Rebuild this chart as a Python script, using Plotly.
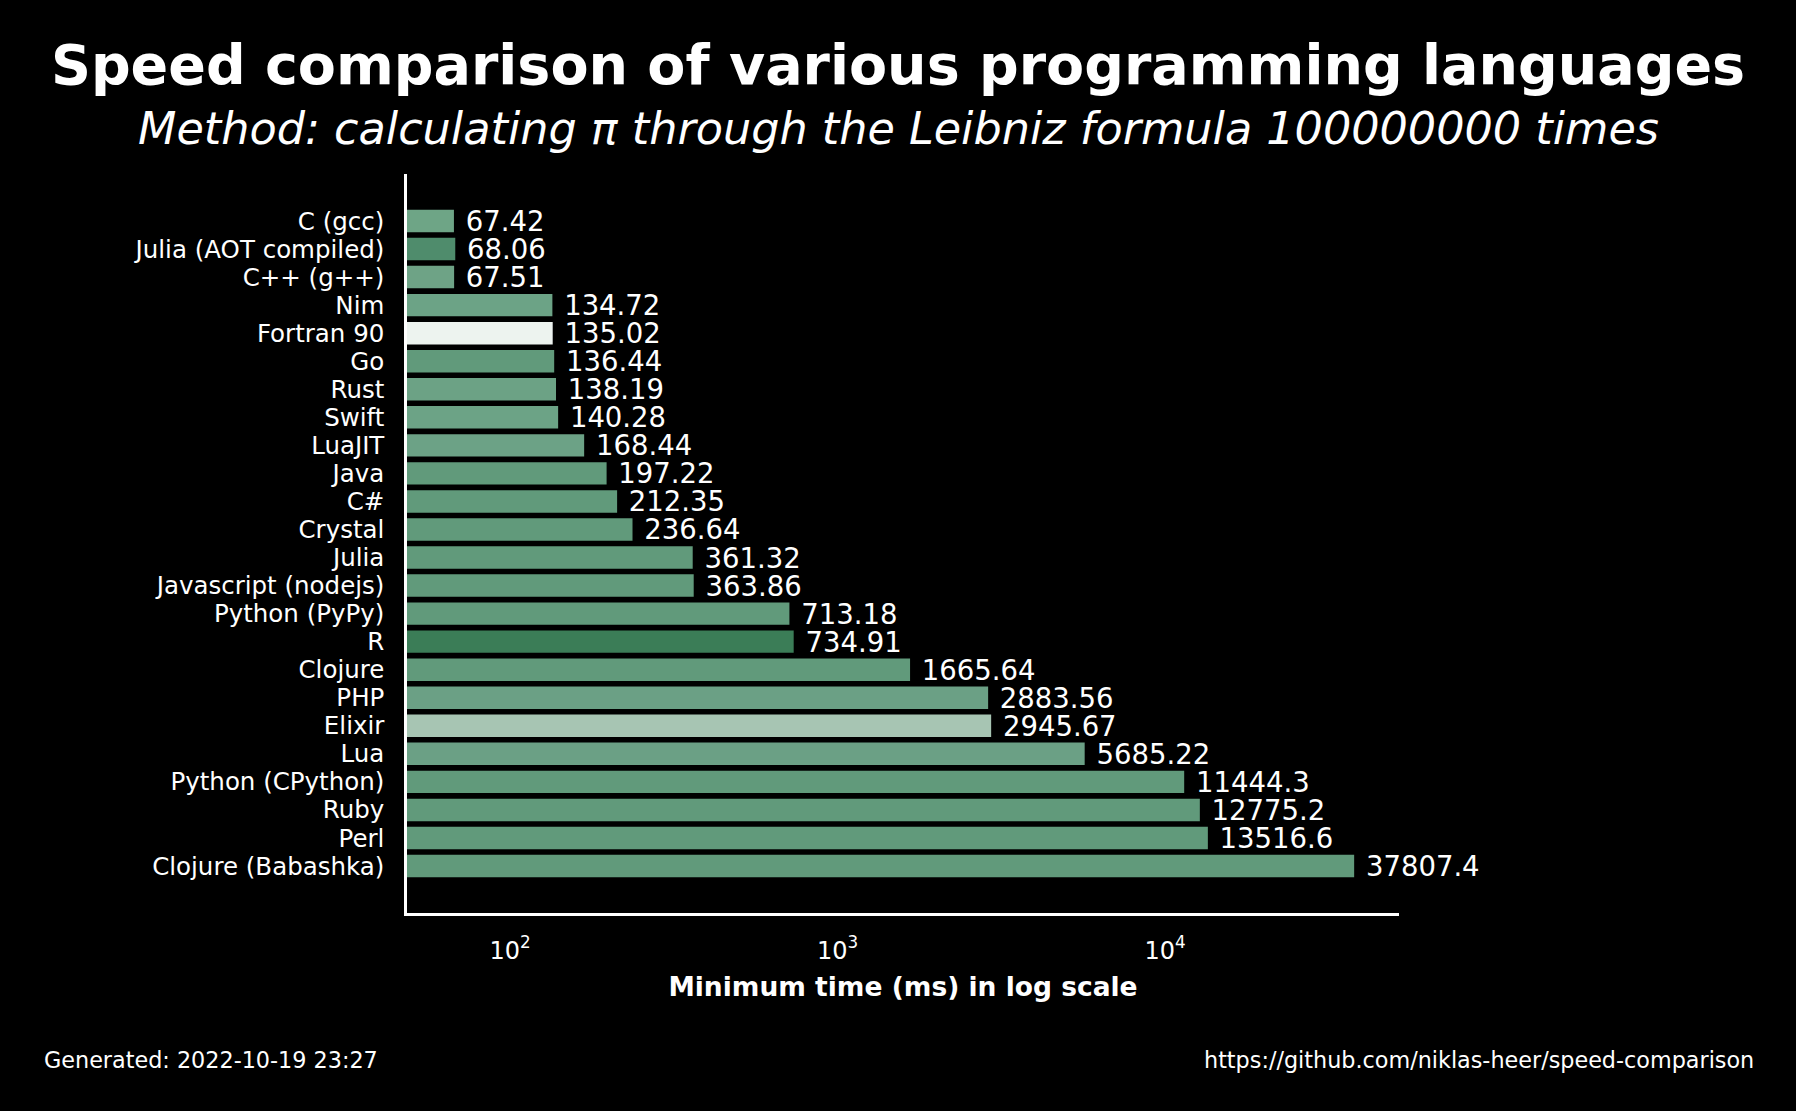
import plotly.graph_objects as go

# data
languages = ["C (gcc)", "Julia (AOT compiled)", "C++ (g++)", "Nim", "Fortran 90", "Go", "Rust",
             "Swift", "LuaJIT", "Java", "C#", "Crystal", "Julia", "Javascript (nodejs)",
             "Python (PyPy)", "R", "Clojure", "PHP", "Elixir", "Lua", "Python (CPython)",
             "Ruby", "Perl", "Clojure (Babashka)"]
times_ms = [67.42, 68.06, 67.51, 134.72, 135.02, 136.44, 138.19, 140.28, 168.44, 197.22,
            212.35, 236.64, 361.32, 363.86, 713.18, 734.91, 1665.64, 2883.56, 2945.67,
            5685.22, 11444.3, 12775.2, 13516.6, 37807.4]
bar_colors = ["#6ea586", "#4f8c6c", "#6ea386", "#6ca386", "#edf3ef", "#619a7b", "#6ca285",
              "#6ca386", "#6ca286", "#619a7b", "#619a7b", "#619a7b", "#619a7b", "#619a7b",
              "#619a7b", "#3b7d57", "#619a7b", "#6ba085", "#a7c5b3", "#6ba085", "#619a7b",
              "#619a7b", "#619a7b", "#619a7b"]
tick_vals = [100, 1000, 10000]
tick_text = ["10<sup>2</sup>", "10<sup>3</sup>", "10<sup>4</sup>"]

font = "DejaVu Sans"

fig = go.Figure()
fig.add_trace(go.Bar(
    x=times_ms, y=languages, orientation="h",
    marker=dict(color=bar_colors, line=dict(width=0)),
    width=0.8,
    text=["\u00a0" + f"{v:g}" for v in times_ms],
    textposition="outside", constraintext="none", cliponaxis=False,
    textfont=dict(family=font, size=27.5, color="white"),
))

fig.update_layout(
    width=1796, height=1111,
    paper_bgcolor="black", plot_bgcolor="black",
    margin=dict(l=407, r=397, t=174, b=198),
    showlegend=False,
    font=dict(family=font, color="white"),
    title=dict(text="<b>Speed comparison of various programming languages</b>",
               x=0.5, xanchor="center", y=1 - 65 / 1111, yanchor="middle",
               font=dict(family=font, size=55.5, color="white")),
)

fig.update_xaxes(
    type="log", range=[1.6855, 4.7145],
    tickvals=tick_vals, ticktext=tick_text,
    showgrid=False, zeroline=False, ticks="",
    showline=True, linecolor="white", linewidth=2.5,
    ticklabelstandoff=14,
    tickfont=dict(family=font, size=24, color="white"),
    title=dict(text="<b>Minimum time (ms) in log scale</b>", standoff=14,
               font=dict(family=font, size=26.5, color="white")),
)
fig.update_yaxes(
    range=[len(languages) - 1 + 1.676, -1.676],
    tickmode="array", tickvals=languages, ticktext=languages,
    showgrid=False, zeroline=False, ticks="",
    showline=True, linecolor="white", linewidth=2.5,
    ticklabelstandoff=15,
    tickfont=dict(family=font, size=24.5, color="white"),
)

fig.add_annotation(text="<i>Method: calculating π through the Leibniz formula 100000000 times</i>",
                   xref="paper", yref="paper", x=(898 - 407) / 992, y=(913 - 128) / 739,
                   xanchor="center", yanchor="middle", showarrow=False,
                   font=dict(family=font, size=44.5, color="white"))
fig.add_annotation(text="Generated: 2022-10-19 23:27",
                   xref="paper", yref="paper", x=(42 - 407) / 992, y=(913 - 1060) / 739,
                   xanchor="left", yanchor="middle", showarrow=False,
                   font=dict(family=font, size=22.3, color="white"))
fig.add_annotation(text="https://github.com/niklas-heer/speed-comparison",
                   xref="paper", yref="paper", x=(1756 - 407) / 992, y=(913 - 1060) / 739,
                   xanchor="right", yanchor="middle", showarrow=False,
                   font=dict(family=font, size=22.3, color="white"))

# drop the page margin so the black figure fills the window
fig.write_html("out.html", config={"displayModeBar": False},
               post_script="document.body.style.margin='0';document.body.style.background='black';")
